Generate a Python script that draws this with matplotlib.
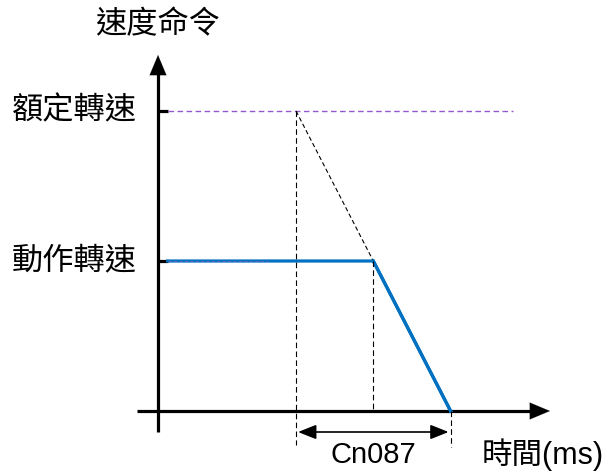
import matplotlib
matplotlib.use('Agg')
import matplotlib.pyplot as plt

plt.rcParams['font.family'] = ['Liberation Sans', 'Noto Sans CJK TC', 'DejaVu Sans']

# time in ms, speed in rpm (schematic)
t_cmd = 100        # stop command given
t_decel = 156      # actual deceleration begins
t_stop = 212       # motor stops
rated_speed = 3000
run_speed = 1500

speed_t = [7, t_decel, t_stop]
speed_v = [run_speed, run_speed, 0]
ref_t = [t_cmd, t_stop]
ref_v = [rated_speed, 0]

y_labels = ['額定轉速', '動作轉速']
y_levels = [rated_speed, run_speed]

fig = plt.figure(figsize=(6.14, 4.73), dpi=100)
ax = fig.add_axes([0, 0, 1, 1])
ax.set_xlim(-114.5, 330.4)
ax.set_ylim(-620, 4110)
ax.axis('off')

blue = '#0070C0'
purple = '#9558CC'

# axes with arrowheads
ax.plot([0, 0], [-210, 3450], color='black', lw=2.3, solid_capstyle='butt')
ax.plot([-15, 275], [0, 0], color='black', lw=2.3, solid_capstyle='butt')
ax.annotate('', xy=(0, 3560), xytext=(0, 3300),
            arrowprops=dict(arrowstyle='-|>,head_length=1.0,head_width=0.42',
                            mutation_scale=14.4, color='black', lw=0.1,
                            shrinkA=0, shrinkB=0))
ax.annotate('', xy=(284, 0), xytext=(265, 0),
            arrowprops=dict(arrowstyle='-|>,head_length=1.0,head_width=0.42',
                            mutation_scale=14.4, color='black', lw=0.1,
                            shrinkA=0, shrinkB=0))

# ticks on y axis
for lv in y_levels:
    ax.plot([0, 7.2], [lv, lv], color='black', lw=2.3, solid_capstyle='butt')

# rated speed guide
ax.plot([7.2, 257], [rated_speed, rated_speed], color=purple, lw=1.0,
        dashes=(4, 2.5))

# actual speed command
ax.plot(speed_t, speed_v, color=blue, lw=2.3, solid_joinstyle='miter')
ax.plot([7.2, 80], [run_speed, run_speed], color=purple, lw=0.6,
        dashes=(4, 2.5), alpha=0.7)

# reference deceleration slope
ax.plot(ref_t, ref_v, color='black', lw=0.8, dashes=(4, 2.5))
ax.plot(speed_t[1:], speed_v[1:], color=blue, lw=2.3)

# vertical guides
ax.plot([t_cmd, t_cmd], [rated_speed, -340], color='black', lw=0.8, dashes=(5, 3))
ax.plot([t_decel, t_decel], [run_speed, 0], color='black', lw=0.8, dashes=(5, 3))
ax.plot([t_stop, t_stop], [0, -360], color='black', lw=0.8, dashes=(5, 3))

# Cn087 span
ax.annotate('', xy=(t_stop - 1.5, -210), xytext=(t_cmd + 1.5, -210),
            arrowprops=dict(arrowstyle='<|-|>,head_length=1.0,head_width=0.4',
                            mutation_scale=11, color='black', lw=1.2,
                            shrinkA=0, shrinkB=0))

fs = 21
cjk = 22.5
ax.text((t_cmd + t_stop) / 2, -440, 'Cn087', ha='center', va='center', fontsize=fs)
ax.text(323, -440, '時間(ms)', ha='right', va='center', fontsize=22, fontweight='light')
ax.text(0, 3860, '速度命令', ha='center', va='center', fontsize=cjk, fontweight='light')
for lab, lv in zip(y_labels, y_levels):
    ax.text(-15.2, lv, lab, ha='right', va='center', fontsize=cjk, fontweight='light')

fig.savefig('out.png', dpi=100)
